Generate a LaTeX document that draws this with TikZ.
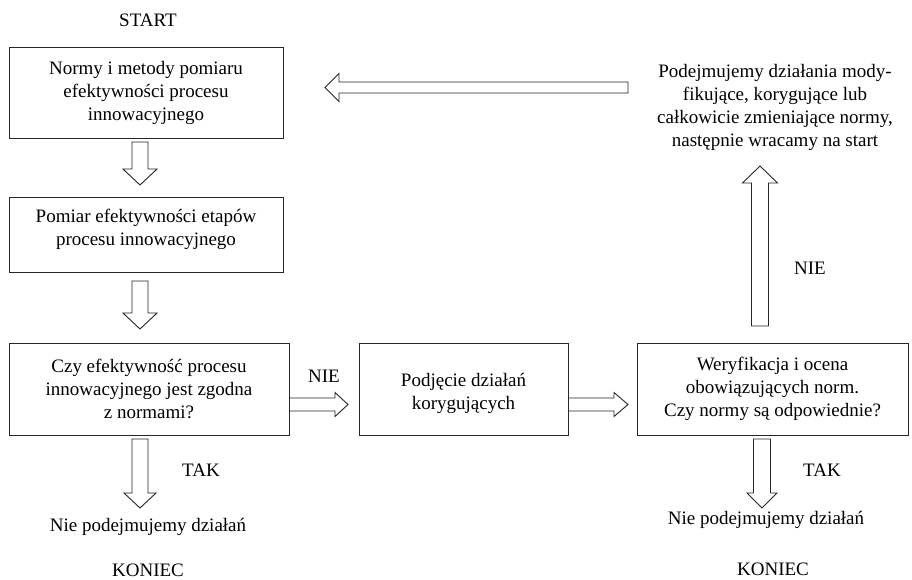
\documentclass[tikz,border=0pt]{standalone}
\usepackage{fontspec}
\setmainfont{Liberation Serif}
\usetikzlibrary{calc}
\tikzset{
  every node/.style={font=\fontsize{19}{23}\selectfont},
  box/.style={draw=black!85, line width=1pt, align=center, inner sep=2pt},
  lbl/.style={inner sep=0pt, align=center},
  blk/.style={draw=black!85, line width=0.9pt, line join=miter, fill=white}
}
% hollow block arrow: start, end, shaft half-width, head half-width, head length
\newcommand\blockarr[5]{%
  \draw[blk] ($(#1)!#3!90:(#2)$)
    -- ($(#2)!#5!(#1)!#3!90:(#2)$)
    -- ($(#2)!#5!(#1)!#4!90:(#2)$)
    -- (#2)
    -- ($(#2)!#5!(#1)!#4!-90:(#2)$)
    -- ($(#2)!#5!(#1)!#3!-90:(#2)$)
    -- ($(#1)!#3!-90:(#2)$) -- cycle;}
\begin{document}
\begin{tikzpicture}[x=1pt,y=-1pt]
\useasboundingbox (0,0) rectangle (912,579);

\node[lbl] (start) at (148,20) {START};
\node[box, minimum width=274pt, minimum height=91pt] (b1) at (146,92.5)
  {Normy i metody pomiaru\\efektywności procesu\\innowacyjnego};
\node[box, minimum width=274pt, minimum height=75pt, text depth=14pt] (b2) at (146,234.5)
  {Pomiar efektywności etapów\\procesu innowacyjnego};
\node[box, minimum width=280pt, minimum height=92pt] (b3) at (149,389)
  {Czy efektywność procesu\\innowacyjnego jest zgodna\\z normami?};
\node[box, minimum width=209pt, minimum height=92pt, text height=45pt] (b4) at (463.5,389)
  {Podjęcie działań\\korygujących};
\node[box, minimum width=271pt, minimum height=92pt] (b5) at (772.5,389)
  {Weryfikacja i ocena\\obowiązujących norm.\\Czy normy są odpowiednie?};
\node[lbl] (mod) at (775,107)
  {Podejmujemy działania mody-\\fikujące, korygujące lub\\całkowicie zmieniające normy,\\następnie wracamy na start};

\node[lbl] (nie1) at (324,376) {NIE};
\node[lbl] (nie2) at (810,268) {NIE};
\node[lbl] (tak1) at (201,470) {TAK};
\node[lbl] (tak2) at (822,470) {TAK};
\node[lbl] (end1) at (148,527) {Nie podejmujemy działań};
\node[lbl] (end2) at (766,520) {Nie podejmujemy działań};
\node[lbl] (kon1) at (148,570) {KONIEC};
\node[lbl] (kon2) at (773,569) {KONIEC};

\coordinate (a1s) at (140,142); \coordinate (a1e) at (140,185);
\coordinate (a2s) at (140,281); \coordinate (a2e) at (140,329);
\coordinate (a3s) at (b3.east |- 0,404.5); \coordinate (a3e) at (348,404.5);
\coordinate (a4s) at (b4.east |- 0,404.5); \coordinate (a4e) at (628,404.5);
\coordinate (a5s) at (760,326); \coordinate (a5e) at (760,166);
\coordinate (a6s) at (628,87.5); \coordinate (a6e) at (325,87.5);
\coordinate (a7s) at (140,439); \coordinate (a7e) at (140,508);
\coordinate (a8s) at (762,439); \coordinate (a8e) at (762,508);

\blockarr{a1s}{a1e}{8pt}{17pt}{16pt}
\blockarr{a2s}{a2e}{8pt}{17pt}{16pt}
\blockarr{a3s}{a3e}{6.5pt}{12pt}{13pt}
\blockarr{a4s}{a4e}{6.5pt}{12pt}{14pt}
\blockarr{a5s}{a5e}{8.5pt}{17.5pt}{17pt}
\blockarr{a6s}{a6e}{5.5pt}{14pt}{14pt}
\blockarr{a7s}{a7e}{8pt}{16pt}{15pt}
\blockarr{a8s}{a8e}{8.5pt}{15pt}{15pt}
\end{tikzpicture}
\end{document}
